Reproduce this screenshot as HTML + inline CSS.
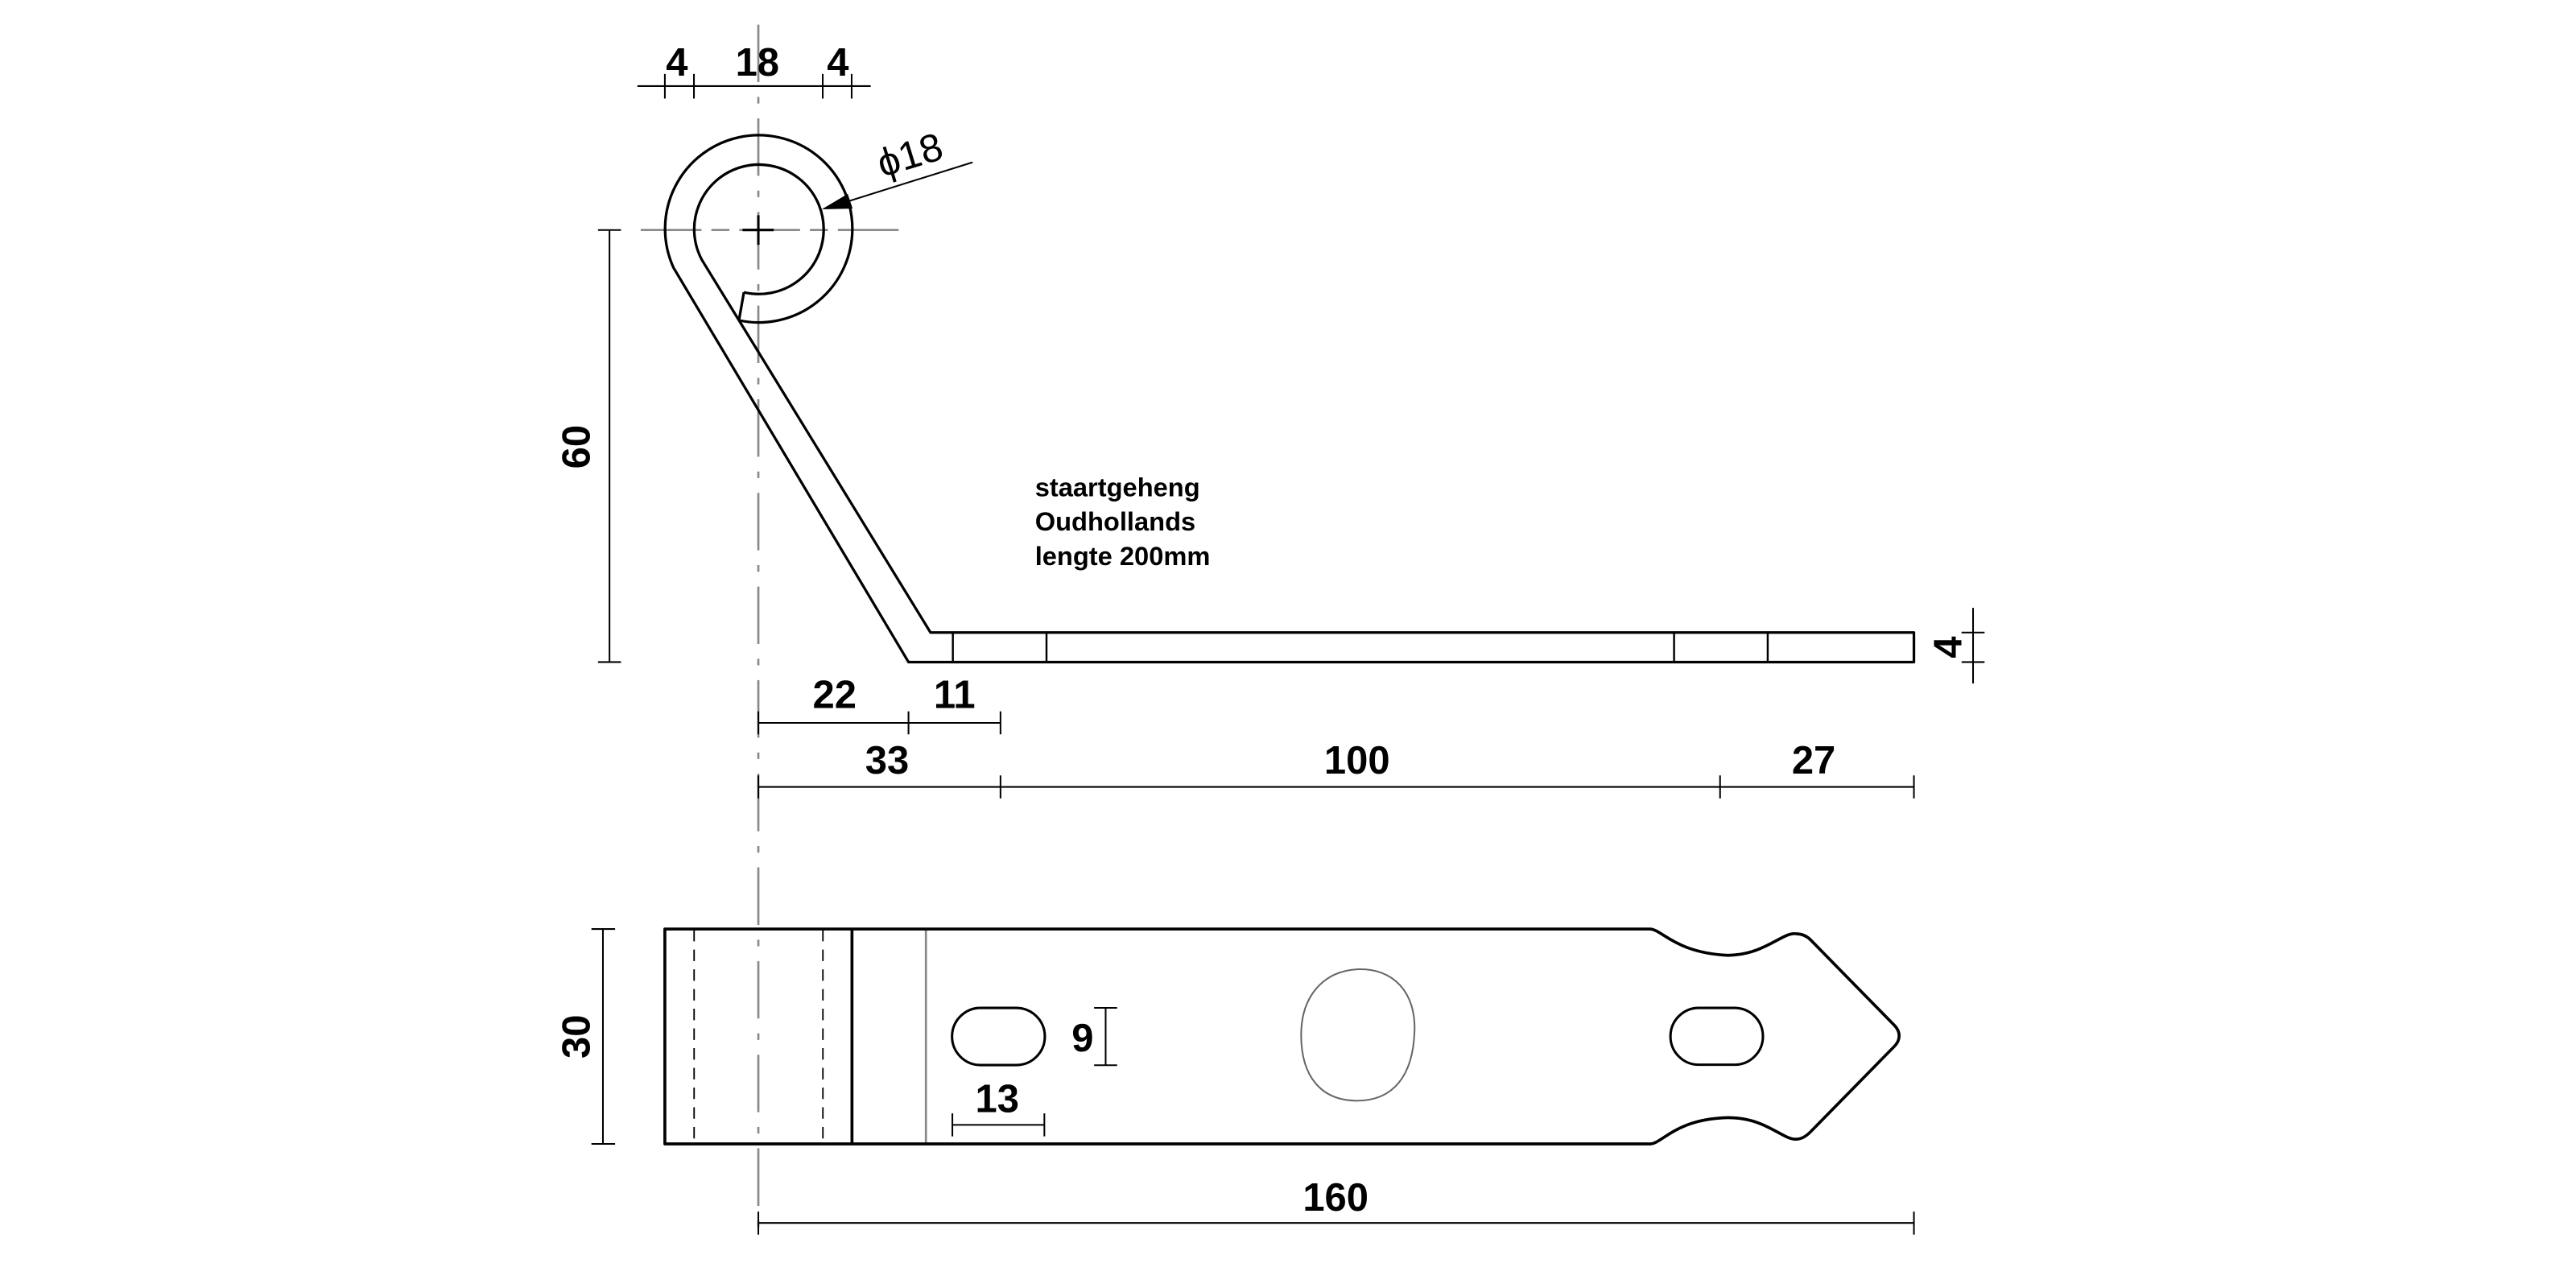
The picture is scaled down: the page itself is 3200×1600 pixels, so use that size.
<!DOCTYPE html>
<html><head><meta charset="utf-8"><style>
html,body{margin:0;padding:0;background:#fff;}
svg{display:block;}
text{font-family:"Liberation Sans",Arial,sans-serif;}
</style></head><body>
<svg width="3200" height="1600" viewBox="0 0 1568 784" xmlns="http://www.w3.org/2000/svg">
<rect width="1568" height="784" fill="#fff"/>
<!-- centerlines -->
<g stroke="#888" stroke-width="1.3" fill="none">
<line x1="461.6" y1="15" x2="461.6" y2="752" stroke-dasharray="35 9 4 9"/>
<line x1="390" y1="140" x2="550" y2="140" stroke-dasharray="37 6 11 6"/>
<line x1="563.6" y1="565.5" x2="563.6" y2="696.3"/>
</g>
<g stroke="#000" stroke-width="1.5" fill="none">
<line x1="452" y1="140" x2="471" y2="140"/>
<line x1="461.6" y1="131" x2="461.6" y2="149"/>
</g>
<!-- hook profile -->
<g stroke="#000" stroke-width="1.6" fill="none" stroke-linejoin="round">
<path d="M452.8 177.9 A39.4 39.4 0 1 0 427.3 158.3 L566.4 385 L1165 385 L1165 403 L553 403 L410 163 A57 57 0 1 1 449.8 195"/>
<line x1="452.8" y1="177.9" x2="449.8" y2="195"/>
<line x1="580" y1="385" x2="580" y2="403" stroke-width="1.2"/>
<line x1="637" y1="385" x2="637" y2="403" stroke-width="1.2"/>
<line x1="1019" y1="385" x2="1019" y2="403" stroke-width="1.2"/>
<line x1="1076" y1="385" x2="1076" y2="403" stroke-width="1.2"/>
</g>
<!-- plan view -->
<g stroke="#000" stroke-width="1.8" fill="none" stroke-linejoin="round">
<path d="M404.7 565.5 L1004.5 565.5 C1012 566 1020 580 1051.9 581.5 C1075 581 1085 567 1093.5 568.4 C1097 568.5 1100 570 1102 572 L1153 624 C1157 628 1157 633 1153 637 L1102 689 C1100 691 1097 693.4 1093.5 693.4 C1085 694 1075 680.3 1051.9 680.3 C1020 681 1012 696 1004.5 696.3 L404.7 696.3 Z"/>
<line x1="518.6" y1="565.5" x2="518.6" y2="696.3"/>
<rect x="579.5" y="613.5" width="56.5" height="34.8" rx="17.4" stroke-width="1.5"/>
<rect x="1016.8" y="613.5" width="56.3" height="34.6" rx="17.3" stroke-width="1.5"/>
</g>
<path d="M826 590 C848 589 862 604 861 628 C860 655 848 670 826 670 C804 670 792 655 792 630 C792 606 806 591 826 590 Z" stroke="#666" stroke-width="1" fill="none"/>
<g stroke="#000" stroke-width="0.9" stroke-dasharray="7 5">
<line x1="422.5" y1="566" x2="422.5" y2="696"/>
<line x1="500.9" y1="566" x2="500.9" y2="696"/>
</g>
<!-- dimensions -->
<g stroke="#000" stroke-width="1" fill="none">
<!-- top 4 18 4 -->
<line x1="388" y1="52.4" x2="530" y2="52.4"/>
<line x1="404.7" y1="45" x2="404.7" y2="60"/>
<line x1="422.4" y1="45" x2="422.4" y2="60"/>
<line x1="500.8" y1="45" x2="500.8" y2="60"/>
<line x1="518.4" y1="45" x2="518.4" y2="60"/>
<!-- 60 -->
<line x1="371" y1="140" x2="371" y2="403"/>
<line x1="364" y1="140" x2="378" y2="140"/>
<line x1="364" y1="403" x2="378" y2="403"/>
<!-- 4 right -->
<line x1="1201" y1="370" x2="1201" y2="416"/>
<line x1="1194" y1="385" x2="1208" y2="385"/>
<line x1="1194" y1="403" x2="1208" y2="403"/>
<!-- 22 11 -->
<line x1="461.6" y1="440" x2="609" y2="440"/>
<line x1="461.6" y1="433" x2="461.6" y2="447"/>
<line x1="553" y1="433" x2="553" y2="447"/>
<line x1="609" y1="433" x2="609" y2="447"/>
<!-- 33 100 27 -->
<line x1="461.6" y1="479" x2="1165" y2="479"/>
<line x1="461.6" y1="472" x2="461.6" y2="486"/>
<line x1="609" y1="472" x2="609" y2="486"/>
<line x1="1047" y1="472" x2="1047" y2="486"/>
<line x1="1165" y1="472" x2="1165" y2="486"/>
<!-- 30 -->
<line x1="367" y1="565.5" x2="367" y2="696.3"/>
<line x1="360" y1="565.5" x2="374.4" y2="565.5"/>
<line x1="360" y1="696.3" x2="374.4" y2="696.3"/>
<!-- 9 -->
<line x1="673" y1="613.5" x2="673" y2="648.4"/>
<line x1="666" y1="613.5" x2="680" y2="613.5"/>
<line x1="666" y1="648.4" x2="680" y2="648.4"/>
<!-- 13 -->
<line x1="579.7" y1="684.7" x2="635.7" y2="684.7"/>
<line x1="579.7" y1="677.7" x2="579.7" y2="691.7"/>
<line x1="635.7" y1="677.7" x2="635.7" y2="691.7"/>
<!-- 160 -->
<line x1="461.6" y1="744.4" x2="1165" y2="744.4"/>
<line x1="461.6" y1="737.5" x2="461.6" y2="751.5"/>
<line x1="1165" y1="737.5" x2="1165" y2="751.5"/>
<!-- phi leader -->
<line x1="592" y1="98.8" x2="510" y2="124.5"/>
</g>
<path d="M500.2 127.4 L516 118 L519 127 Z" fill="#000"/>
<g font-weight="bold" font-size="24" fill="#000" text-anchor="middle">
<text x="412" y="46">4</text>
<text x="461" y="46">18</text>
<text x="510" y="46">4</text>
<text x="508" y="431">22</text>
<text x="581" y="431">11</text>
<text x="540" y="471">33</text>
<text x="826" y="471">100</text>
<text x="1104" y="471">27</text>
<text x="659" y="640">9</text>
<text x="607" y="677">13</text>
<text x="813" y="737">160</text>
<text transform="translate(359,272) rotate(-90)">60</text>
<text transform="translate(359,631) rotate(-90)">30</text>
<text transform="translate(1194,394) rotate(-90)">4</text>
</g>
<text transform="translate(537,108) rotate(-17)" font-size="24" fill="#000">ϕ18</text>
<g font-weight="bold" font-size="16" fill="#000">
<text x="630" y="302">staartgeheng</text>
<text x="630" y="323">Oudhollands</text>
<text x="630" y="344">lengte 200mm</text>
</g>
</svg>
</body></html>
